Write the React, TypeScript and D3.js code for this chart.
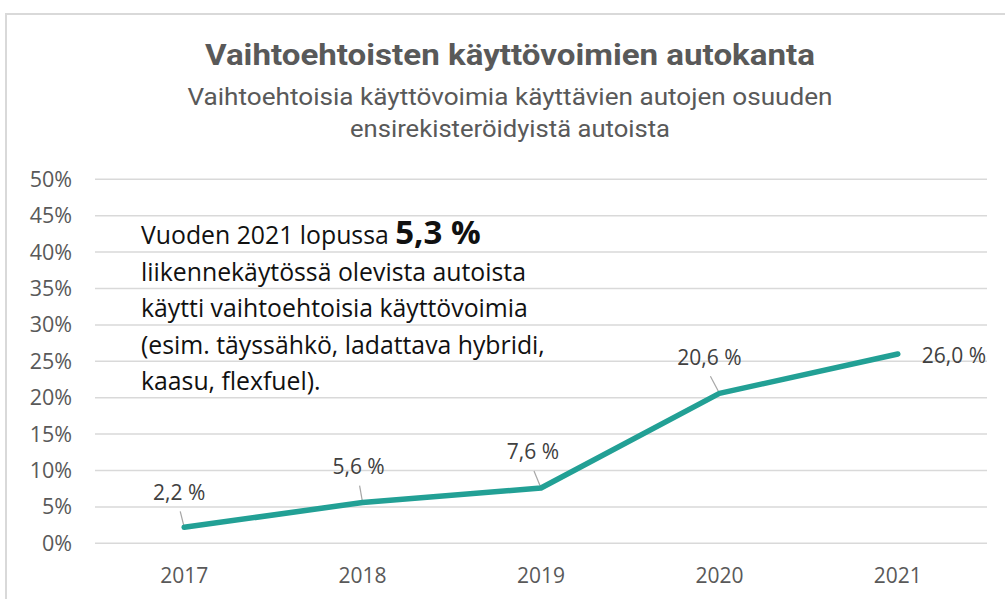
import React, { useEffect, useRef } from "react";
import * as d3 from "d3";

const years = ["2017", "2018", "2019", "2020", "2021"];
const shares = [2.2, 5.6, 7.6, 20.6, 26.0];
const valueLabels = ["2,2 %", "5,6 %", "7,6 %", "20,6 %", "26,0 %"];
const yTicks = [0, 5, 10, 15, 20, 25, 30, 35, 40, 45, 50];
const title = "Vaihtoehtoisten käyttövoimien autokanta";
const subtitleLines = ["Vaihtoehtoisia käyttövoimia käyttävien autojen osuuden", "ensirekisteröidyistä autoista"];
const noteFirst = "Vuoden 2021 lopussa ";
const noteBold = "5,3 %";
const noteLines = [
  "liikennekäytössä olevista autoista",
  "käytti vaihtoehtoisia käyttövoimia",
  "(esim. täyssähkö, ladattava hybridi,",
  "kaasu, flexfuel).",
];

const W = 1005;
const H = 599;

export default function App() {
  const ref = useRef<SVGSVGElement>(null);

  useEffect(() => {
    const svg = d3.select(ref.current);
    svg.selectAll("*").remove();

    const left = 95, right = 987, top = 179.3, bottom = 543.3;
    const x = d3.scalePoint<string>().domain(years).range([left, right]).padding(0.5);
    const y = d3.scaleLinear().domain([0, 50]).range([bottom, top]);

    // frame
    svg.append("rect").attr("x", 6).attr("y", 14).attr("width", 1100).attr("height", 700)
      .attr("fill", "white").attr("stroke", "#d9d9d9").attr("stroke-width", 2);

    const condensed = "'Roboto', sans-serif";
    const body = "'Open Sans', 'Noto Sans', sans-serif";

    svg.append("text").attr("x", 510).attr("y", 65).attr("text-anchor", "middle")
      .attr("font-family", condensed).attr("font-weight", "bold").attr("font-size", 30)
      .attr("textLength", 610).attr("lengthAdjust", "spacingAndGlyphs")
      .attr("fill", "#595959").text(title);

    const subLens = [645, 320];
    subtitleLines.forEach((t, i) => {
      svg.append("text").attr("x", 510).attr("y", 105 + i * 32).attr("text-anchor", "middle")
        .attr("font-family", condensed).attr("font-size", 24.5)
        .attr("textLength", subLens[i]).attr("lengthAdjust", "spacingAndGlyphs")
        .attr("fill", "#595959").text(t);
    });

    // grid
    svg.append("g").selectAll("line").data(yTicks).join("line")
      .attr("x1", left).attr("x2", right)
      .attr("y1", (d) => y(d)).attr("y2", (d) => y(d))
      .attr("stroke", "#d9d9d9").attr("stroke-width", 1.5);

    svg.append("g").selectAll("text").data(yTicks).join("text")
      .attr("x", 72).attr("y", (d) => y(d)).attr("dy", "0.35em")
      .attr("text-anchor", "end").attr("font-family", body).attr("font-size", 21.5)
      .attr("fill", "#595959").text((d) => `${d}%`);

    svg.append("g").selectAll("text").data(years).join("text")
      .attr("x", (d) => x(d)!).attr("y", 576).attr("dy", "0.35em")
      .attr("text-anchor", "middle").attr("font-family", body).attr("font-size", 21)
      .attr("fill", "#595959").text((d) => d);

    // annotation
    const note = svg.append("text").attr("x", 141).attr("y", 244)
      .attr("font-family", body).attr("font-size", 24.8).attr("fill", "#111");
    note.append("tspan").text(noteFirst);
    note.append("tspan").attr("font-weight", "bold").attr("font-size", 33).text(noteBold);
    noteLines.forEach((t, i) => {
      svg.append("text").attr("x", 141).attr("y", 281 + i * 36.3)
        .attr("font-family", body).attr("font-size", 24.8).attr("fill", "#111").text(t);
    });

    // leader lines and labels
    const labelOffsets = [
      { dx: -5, dy: -35, lead: true },
      { dx: -4, dy: -36, lead: true },
      { dx: -8, dy: -36, lead: true },
      { dx: -10, dy: -36, lead: true },
      { dx: 24, dy: 2, lead: false },
    ];
    years.forEach((yr, i) => {
      const px = x(yr)!;
      const py = y(shares[i]);
      const o = labelOffsets[i];
      if (o.lead) {
        svg.append("line").attr("x1", px + o.dx + 1).attr("y1", py + o.dy + 19)
          .attr("x2", px).attr("y2", py)
          .attr("stroke", "#a6a6a6").attr("stroke-width", 1.2);
        svg.append("text").attr("x", px + o.dx).attr("y", py + o.dy).attr("dy", "0.35em")
          .attr("text-anchor", "middle").attr("font-family", body).attr("font-size", 21)
          .attr("fill", "#404040").text(valueLabels[i]);
      } else {
        svg.append("text").attr("x", px + o.dx).attr("y", py + o.dy).attr("dy", "0.35em")
          .attr("text-anchor", "start").attr("font-family", body).attr("font-size", 21)
          .attr("fill", "#404040").text(valueLabels[i]);
      }
    });

    const line = d3.line<number>().x((_, i) => x(years[i])!).y((d) => y(d));
    svg.append("path").datum(shares).attr("d", line)
      .attr("fill", "none").attr("stroke", "#22a095").attr("stroke-width", 5.5)
      .attr("stroke-linecap", "round").attr("stroke-linejoin", "round");
  }, []);

  return (
    <svg ref={ref} width={W} height={H}
      style={{ position: "absolute", left: 0, top: 0, display: "block", background: "white" }} />
  );
}
